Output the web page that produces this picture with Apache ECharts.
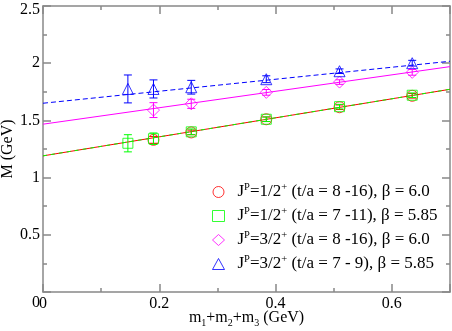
<!DOCTYPE html>
<html><head><meta charset="utf-8">
<script src="https://cdn.jsdelivr.net/npm/echarts@6/dist/echarts.min.js"></script>
<style>html,body{margin:0;padding:0;background:#fff}#c{width:452px;height:331px}</style>
</head><body><div id="c"></div>
<script>
// ---- data ----
const mRed = [0.19, 0.255, 0.384, 0.51, 0.635];
const yRed = [1.33, 1.395, 1.51, 1.615, 1.715];
const eRed = [0.03, 0.02, 0.02, 0.02, 0.02];

const mGreen = [0.146, 0.19, 0.255, 0.384, 0.51, 0.635];
const yGreen = [1.30, 1.34, 1.40, 1.51, 1.62, 1.72];
const eGreen = [0.075, 0.05, 0.025, 0.02, 0.02, 0.02];

const mMag = [0.19, 0.255, 0.384, 0.51, 0.635];
const yMag = [1.59, 1.645, 1.745, 1.835, 1.92];
const eMag = [0.065, 0.04, 0.025, 0.02, 0.025];

const mBlue = [0.146, 0.19, 0.255, 0.384, 0.51, 0.635];
const yBlue = [1.775, 1.775, 1.79, 1.86, 1.93, 2.00];
const eBlue = [0.122, 0.079, 0.06, 0.03, 0.02, 0.025];

// fit lines: [x, y] at both ends
const fitRed = [[0, 1.19], [0.7, 1.772]];
const fitGreen = [[0, 1.19], [0.7, 1.772]];
const fitMag = [[0, 1.467], [0.7, 1.97]];
const fitBlue = [[0, 1.65], [0.7, 2.017]];

const legendJP = ['1/2', '1/2', '3/2', '3/2'];
const legendRest = [' (t/a = 8 -16), β = 6.0', ' (t/a = 7 -11), β = 5.85', ' (t/a = 8 -16), β = 6.0', ' (t/a = 7 - 9), β = 5.85'];
const seriesNames = ['s1', 's2', 's3', 's4'];

const xTickLabels = ['0', '0.2', '0.4', '0.6'];
const yTickLabels = ['0', '0.5', '1', '1.5', '2', '2.5'];

// ---- chart ----
const FONT = 'Liberation Serif';
const FS = 16;
const LFS = 17;
const AXIS = '#888';
const colors = ['#ff0000', '#00ff00', '#ff00ff', '#0000ff'];

function pts(xs, ys) { return xs.map((x, i) => [x, ys[i]]); }
function errs(xs, ys, es) { return xs.map((x, i) => [x, ys[i] - es[i], ys[i] + es[i]]); }

function errRender(color) {
  return function (params, api) {
    const x = api.value(0), lo = api.value(1), hi = api.value(2);
    const p1 = api.coord([x, hi]), p2 = api.coord([x, lo]);
    const w = 4;
    const st = { stroke: color, lineWidth: 1, fill: null };
    return { type: 'group', children: [
      { type: 'line', shape: { x1: p1[0], y1: p1[1], x2: p2[0], y2: p2[1] }, style: st },
      { type: 'line', shape: { x1: p1[0] - w, y1: p1[1], x2: p1[0] + w, y2: p1[1] }, style: st },
      { type: 'line', shape: { x1: p2[0] - w, y1: p2[1], x2: p2[0] + w, y2: p2[1] }, style: st }
    ] };
  };
}

const symbols = ['circle', 'rect', 'diamond', 'triangle'];
const sizes = [11, 10, 12, 11];
const xs = [mRed, mGreen, mMag, mBlue];
const ys = [yRed, yGreen, yMag, yBlue];
const es = [eRed, eGreen, eMag, eBlue];

const series = [];
series.push({ type: 'line', data: fitRed, showSymbol: false, silent: true, lineStyle: { color: colors[0], width: 1 }, z: 2 });
series.push({ type: 'line', data: fitGreen, showSymbol: false, silent: true, lineStyle: { color: colors[1], width: 1, type: [4, 4] }, z: 2 });
series.push({ type: 'line', data: fitMag, showSymbol: false, silent: true, lineStyle: { color: colors[2], width: 1 }, z: 2 });
series.push({ type: 'line', data: fitBlue, showSymbol: false, silent: true, lineStyle: { color: colors[3], width: 1, type: [5, 3] }, z: 2 });

for (let k = 0; k < 4; k++) {
  series.push({
    name: seriesNames[k], type: 'scatter', data: pts(xs[k], ys[k]),
    symbol: symbols[k], symbolSize: sizes[k], symbolKeepAspect: true,
    itemStyle: { color: 'transparent', borderColor: colors[k], borderWidth: 1 }, z: 3
  });
  series.push({
    type: 'custom', data: errs(xs[k], ys[k], es[k]), renderItem: errRender(colors[k]),
    encode: { x: 0, y: [1, 2] }, silent: true, z: 4
  });
}

const labelStyle = { fontFamily: FONT, fontSize: FS, color: '#000' };
const rich = {
  n: { fontFamily: FONT, fontSize: FS, color: '#000', lineHeight: 20 },
  s: { fontFamily: FONT, fontSize: 10, color: '#000', lineHeight: 10, verticalAlign: 'top' },
  b: { fontFamily: FONT, fontSize: 10, color: '#000', lineHeight: 10, verticalAlign: 'bottom' },
  z: { fontFamily: FONT, fontSize: FS, color: '#000', padding: [22, 0, 0, 0] },
  t: { fontFamily: FONT, fontSize: FS, color: '#000', padding: [8, 0, 0, 0] }
};
const legendRich = {
  n: { fontFamily: FONT, fontSize: LFS, color: '#000', lineHeight: 20 },
  s: { fontFamily: FONT, fontSize: 10.5, color: '#000', lineHeight: 10, verticalAlign: 'top' }
};

const mainX = (pos, labels) => ({
  type: 'value', position: pos, min: 0, max: 0.7, interval: 0.2, gridIndex: 0,
  axisLine: { show: true, onZero: false, lineStyle: { color: AXIS, width: 1.5 } },
  axisTick: { show: true, inside: true, length: 8, lineStyle: { color: AXIS, width: 1.5 } },
  splitLine: { show: false },
  axisLabel: labels ? { show: true, margin: 4, ...labelStyle,
    formatter: v => { const i = Math.round(v / 0.2); return Math.abs(v - i * 0.2) < 1e-6 ? xTickLabels[i] : ''; } } : { show: false }
});
const minorX = (pos) => ({
  type: 'value', position: pos, min: 0, max: 0.7, interval: 0.1, gridIndex: 0,
  axisLine: { show: false, onZero: false }, splitLine: { show: false }, axisLabel: { show: false },
  axisTick: { show: true, inside: true, length: 4, lineStyle: { color: AXIS, width: 1.5 } }
});
const mainY = (pos, labels) => ({
  type: 'value', position: pos, min: 0, max: 2.5, interval: 0.5, gridIndex: 0,
  axisLine: { show: true, onZero: false, lineStyle: { color: AXIS, width: 1.5 } },
  axisTick: { show: true, inside: true, length: 8, lineStyle: { color: AXIS, width: 1.5 } },
  minorTick: { show: true, splitNumber: 2, length: 4, lineStyle: { color: AXIS, width: 1.5 } },
  splitLine: { show: false },
  axisLabel: labels ? { show: true, margin: 3, ...labelStyle, rich: rich,
    formatter: v => { const i = Math.round(v / 0.5); const t = yTickLabels[i]; return i === 0 ? '{z|' + t + '}' : (i === 5 ? '{t|' + t + '}' : t); } } : { show: false }
});

const xa0 = mainX('bottom', true);
xa0.name = '{n|m}{b|1}{n|+m}{b|2}{n|+m}{b|3}{n| (GeV)}';
xa0.nameLocation = 'middle';
xa0.nameGap = 16;
xa0.nameMoveOverlap = false;
xa0.nameTextStyle = { rich: rich, fontFamily: FONT, fontSize: FS, color: '#000' };

const ya0 = mainY('left', true);
ya0.name = 'M (GeV)';
ya0.nameLocation = 'middle';
ya0.nameGap = 27;
ya0.nameMoveOverlap = false;
ya0.nameTextStyle = { fontFamily: FONT, fontSize: FS, color: '#000' };

const option = {
  animation: false,
  backgroundColor: '#fff',
  grid: { left: 43, right: 2, top: 6, bottom: 39, containLabel: false, outerBoundsMode: 'none' },
  xAxis: [xa0, minorX('bottom'), mainX('top', false), minorX('top')],
  yAxis: [ya0, mainY('right', false)],
  legend: {
    data: seriesNames, orient: 'vertical', left: 207, top: 177,
    itemWidth: 12, itemHeight: 11, itemGap: 5.5,
    itemStyle: { borderWidth: 1 },
    textStyle: { rich: legendRich, fontFamily: FONT, fontSize: LFS, color: '#000', padding: [0, 0, 0, 8] },
    formatter: name => { const k = seriesNames.indexOf(name); return '{n|J}{s|P}{n|=' + legendJP[k] + '}{s|+}{n|' + legendRest[k] + '}'; }
  },
  series: series
};

const chart = echarts.init(document.getElementById('c'), null, { renderer: 'canvas' });
chart.setOption(option);
</script></body></html>
